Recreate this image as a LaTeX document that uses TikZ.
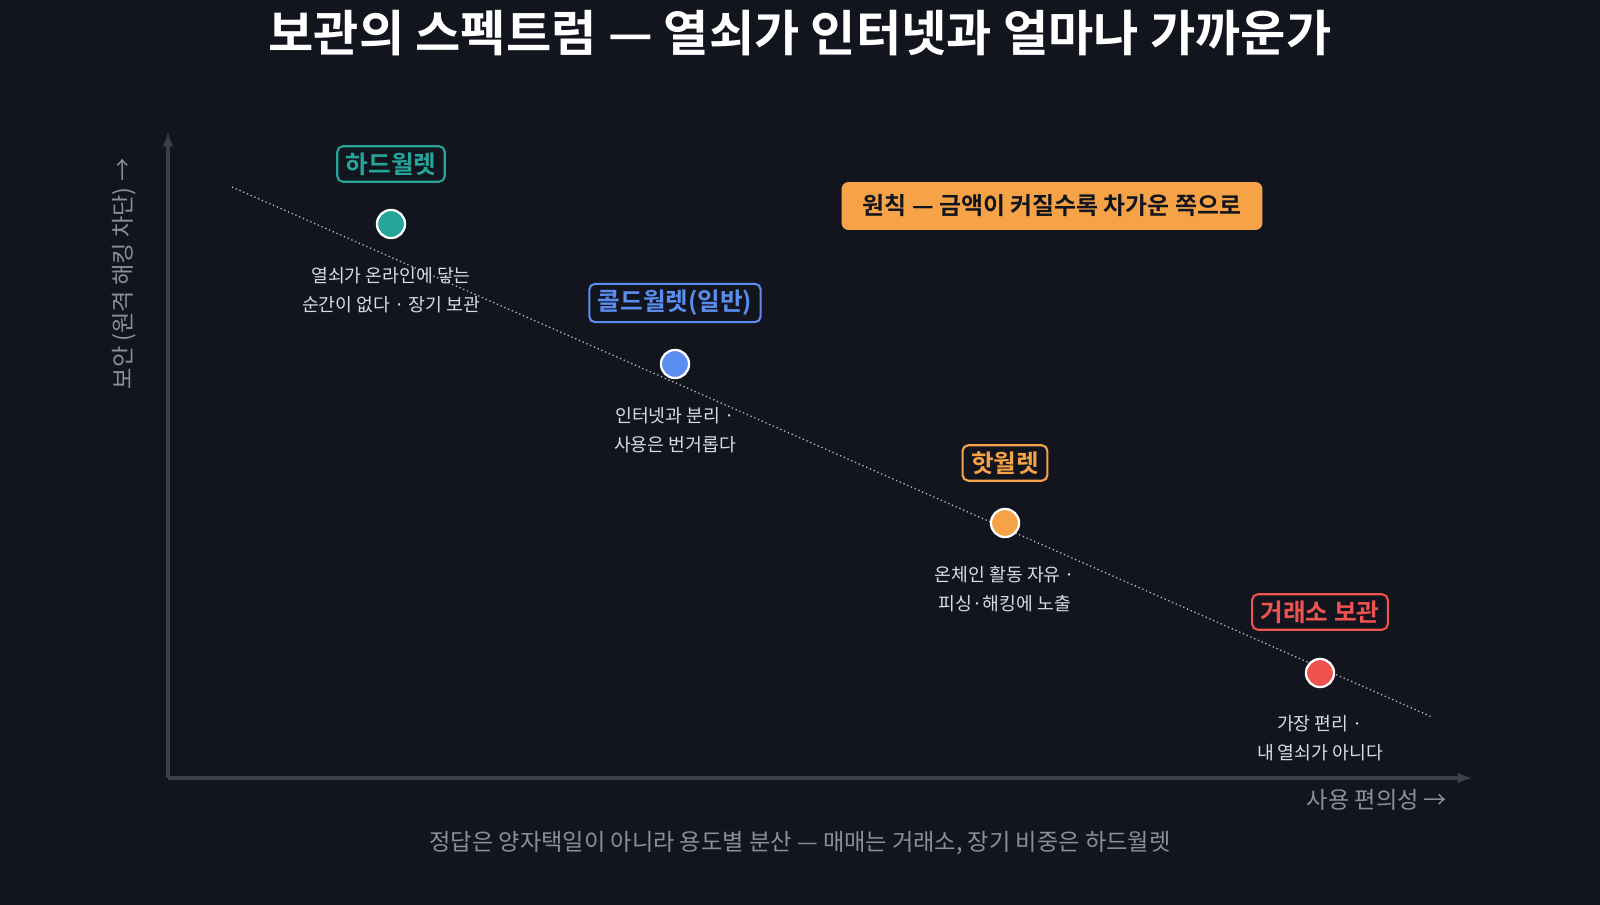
\documentclass[tikz,border=0pt]{standalone}
\usepackage{fontspec}
\setmainfont{Noto Sans CJK KR}
\newfontfamily\boldkr{Noto Sans CJK KR Bold}
\definecolor{bg}{HTML}{12151E}
\definecolor{axisc}{HTML}{3A3F4B}
\definecolor{cteal}{HTML}{26A69A}
\definecolor{cblue}{HTML}{5B8DEF}
\definecolor{corange}{HTML}{F6A347}
\definecolor{cred}{HTML}{EF5350}
\definecolor{desc}{HTML}{D8DBE2}
\definecolor{mut}{HTML}{8A8F9A}
\begin{document}
\begin{tikzpicture}[x=0.025cm,y=-0.025cm,
 tag/.style={draw=#1,line width=1.5pt,rounded corners=4pt,fill=bg,text=#1,font=\boldkr\fontsize{17.5}{20}\selectfont,inner xsep=6pt,inner ysep=4.5pt},
 dot/.style={circle,fill=#1,draw=white,line width=1.6pt,minimum size=20pt,inner sep=0pt},
 dsc/.style={text=desc,font=\fontsize{13}{20.5}\selectfont,align=center}]
\fill[bg] (0,0) rectangle (1600,905);
\useasboundingbox (0,0) rectangle (1600,905);
\node[text=white,font=\boldkr\fontsize{35}{40}\selectfont] (title) at (800,33) {보관의 스펙트럼 — 열쇠가 인터넷과 얼마나 가까운가};
\coordinate (o) at (168,778);
\coordinate (ytop) at (168,132);
\coordinate (xend) at (1472,778);
\draw[axisc,line width=2.5pt,-latex] (o) -- (ytop);
\draw[axisc,line width=2.5pt,-latex] (o) -- (xend);
\coordinate (t1) at (232,187); \coordinate (t2) at (1432,717);
\draw[mut!55,dotted,line width=0.9pt] (t1) -- (t2);
\node[text=mut,font=\fontsize{16.5}{18}\selectfont,rotate=90] (ylab) at (124,274) {보안 (원격 해킹 차단) →};
\node[text=mut,font=\fontsize{16.5}{18}\selectfont] (xlab) at (1377,800) {사용 편의성 →};
\node[text=mut,font=\fontsize{16.5}{18}\selectfont] (foot) at (800,843) {정답은 양자택일이 아니라 용도별 분산 — 매매는 거래소, 장기 비중은 하드월렛};
\node[fill=corange,rounded corners=5pt,text=bg,font=\boldkr\fontsize{17}{19}\selectfont,minimum width=421*0.711pt,minimum height=48*0.711pt] (rule) at (1052,206) {원칙 — 금액이 커질수록 차가운 쪽으로};
\node[dot=cteal] (p1) at (391,224) {};
\node[tag=cteal] (l1) at (391,164) {하드월렛};
\node[dsc] (d1) at (391,290) {열쇠가 온라인에 닿는\\순간이 없다 · 장기 보관};
\node[dot=cblue] (p2) at (675,364) {};
\node[tag=cblue] (l2) at (675,303) {콜드월렛(일반)};
\node[dsc] (d2) at (675,430) {인터넷과 분리 ·\\사용은 번거롭다};
\node[dot=corange] (p3) at (1005,523) {};
\node[tag=corange] (l3) at (1005,463) {핫월렛};
\node[dsc] (d3) at (1005,589) {온체인 활동 자유 ·\\피싱·해킹에 노출};
\node[dot=cred] (p4) at (1320,673) {};
\node[tag=cred] (l4) at (1320,612) {거래소 보관};
\node[dsc] (d4) at (1320,738) {가장 편리 ·\\내 열쇠가 아니다};
\end{tikzpicture}
\end{document}
